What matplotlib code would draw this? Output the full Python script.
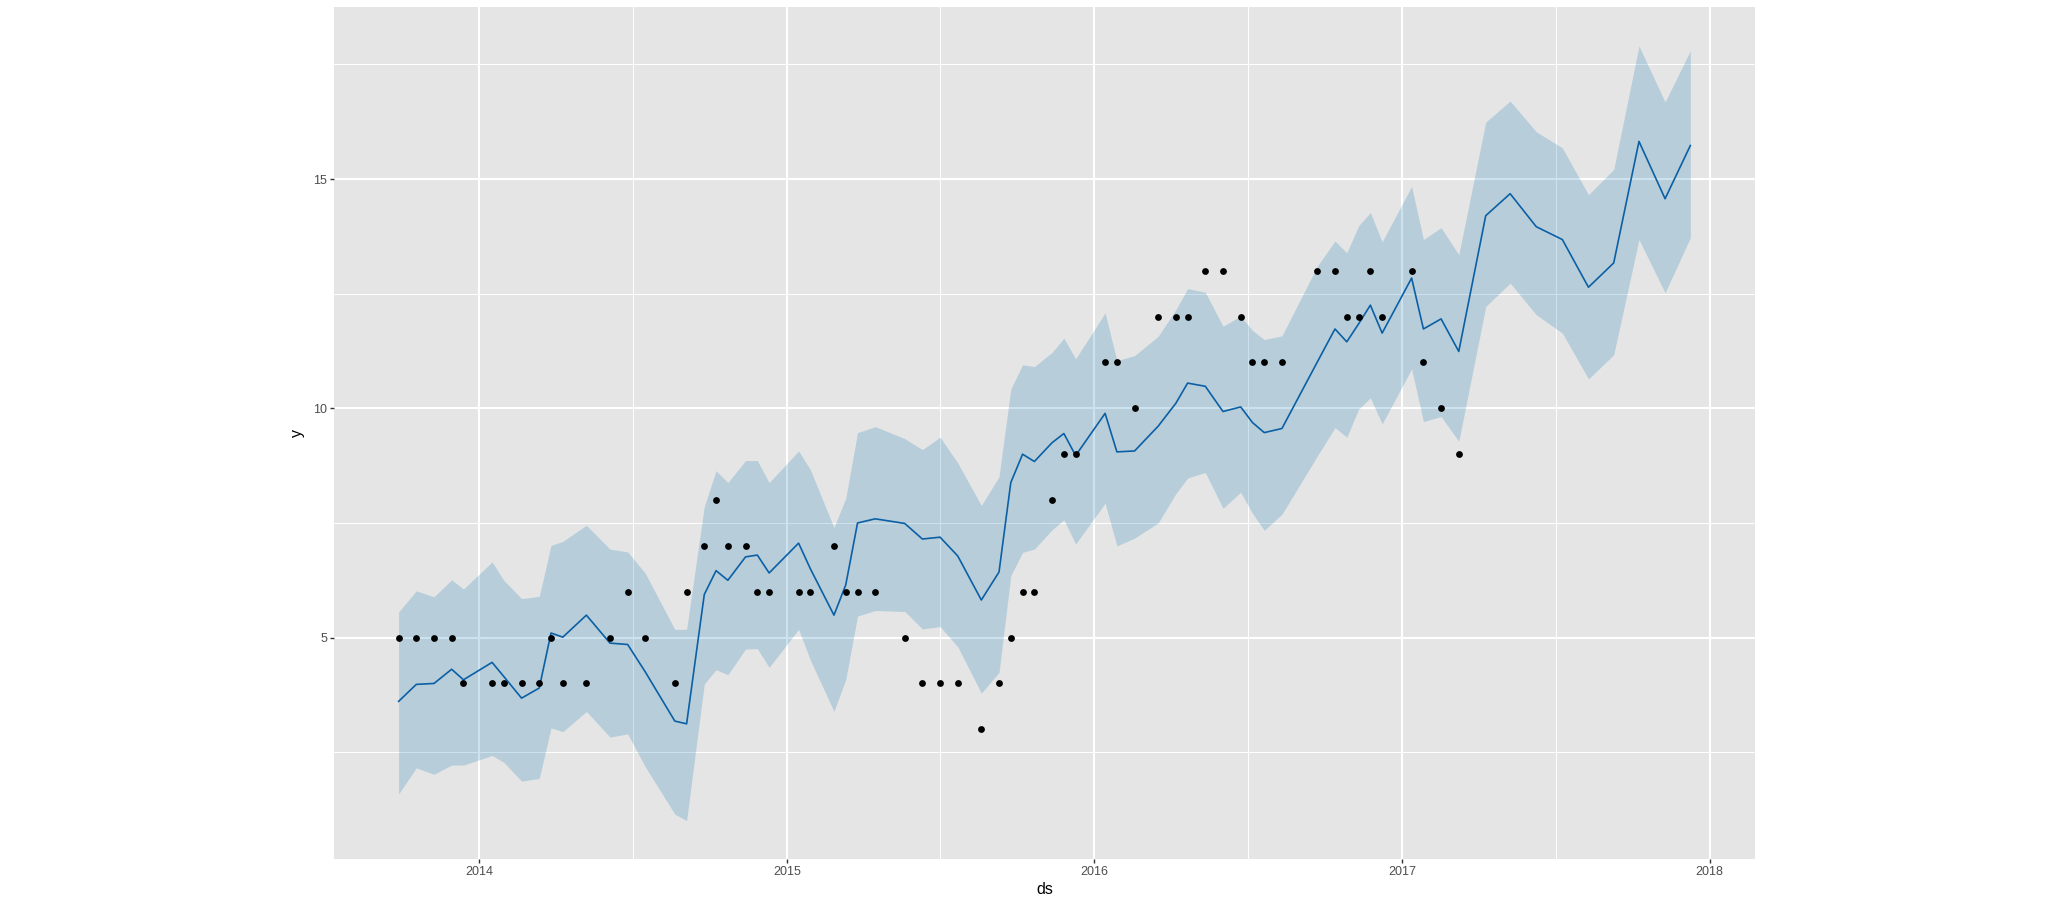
import matplotlib
matplotlib.use('Agg')
import matplotlib.pyplot as plt
import matplotlib.dates as mdates
import numpy as np
import pandas as pd

plt.rcParams['font.family'] = ['Liberation Sans', 'DejaVu Sans']

# observed history (ds, y)
hist_ds = ['2013-09-27', '2013-10-18', '2013-11-08', '2013-11-29', '2013-12-13',
           '2014-01-16', '2014-01-30', '2014-02-20', '2014-03-13', '2014-03-27',
           '2014-04-10', '2014-05-08', '2014-06-05', '2014-06-26', '2014-07-17',
           '2014-08-21', '2014-09-04', '2014-09-25', '2014-10-09', '2014-10-23',
           '2014-11-13', '2014-11-27', '2014-12-11', '2015-01-15', '2015-01-29',
           '2015-02-26', '2015-03-12', '2015-03-26', '2015-04-16', '2015-05-21',
           '2015-06-11', '2015-07-02', '2015-07-23', '2015-08-20', '2015-09-10',
           '2015-09-24', '2015-10-08', '2015-10-22', '2015-11-12', '2015-11-26',
           '2015-12-10', '2016-01-14', '2016-01-28', '2016-02-18', '2016-03-17',
           '2016-04-07', '2016-04-21', '2016-05-12', '2016-06-02', '2016-06-23',
           '2016-07-07', '2016-07-21', '2016-08-11', '2016-09-22', '2016-10-13',
           '2016-10-27', '2016-11-10', '2016-11-24', '2016-12-08', '2017-01-12',
           '2017-01-26', '2017-02-16', '2017-03-09']
hist_y = [5, 5, 5, 5, 4, 4, 4, 4, 4, 5, 4, 4, 5, 6, 5, 4, 6, 7, 8, 7, 7, 6, 6,
          6, 6, 7, 6, 6, 6, 5, 4, 4, 4, 3, 4, 5, 6, 6, 8, 9, 9, 11, 11, 10, 12,
          12, 12, 13, 13, 12, 11, 11, 11, 13, 13, 12, 12, 13, 12, 13, 11, 10, 9]

# future dates of the forecast
future_ds = ['2017-04-10', '2017-05-09', '2017-06-09', '2017-07-10', '2017-08-10',
             '2017-09-09', '2017-10-09', '2017-11-09', '2017-12-09']

# forecast (history + future)
yhat = [3.61, 3.98, 4.00, 4.31, 4.08, 4.46, 4.15, 3.68, 3.90, 5.10, 5.01, 5.49,
        4.88, 4.85, 4.25, 3.18, 3.12, 5.94, 6.46, 6.25, 6.76, 6.80, 6.41, 7.06,
        6.50, 5.49, 6.15, 7.50, 7.59, 7.49, 7.15, 7.19, 6.78, 5.82, 6.43, 8.38,
        9.00, 8.84, 9.25, 9.45, 8.97, 9.89, 9.05, 9.07, 9.61, 10.11, 10.55,
        10.48, 9.93, 10.03, 9.69, 9.47, 9.56, 11.01, 11.73, 11.45, 11.84, 12.25,
        11.64, 12.84, 11.73, 11.95, 11.24,
        14.20, 14.68, 13.96, 13.68, 12.64, 13.17, 15.82, 14.57, 15.73]
yhat_lower = [1.59, 2.16, 2.02, 2.22, 2.22, 2.43, 2.28, 1.87, 1.93, 3.03, 2.95,
              3.39, 2.83, 2.90, 2.18, 1.15, 1.01, 3.99, 4.30, 4.19, 4.75, 4.76,
              4.35, 5.18, 4.51, 3.39, 4.09, 5.47, 5.59, 5.57, 5.19, 5.24, 4.80,
              3.79, 4.24, 6.35, 6.86, 6.93, 7.35, 7.57, 7.04, 7.93, 7.00, 7.17,
              7.50, 8.14, 8.48, 8.60, 7.82, 8.17, 7.71, 7.34, 7.69, 8.96, 9.58,
              9.37, 9.98, 10.23, 9.66, 10.86, 9.71, 9.82, 9.28,
              12.22, 12.73, 12.04, 11.64, 10.64, 11.17, 13.68, 12.52, 13.72]
yhat_upper = [5.56, 6.02, 5.89, 6.26, 6.06, 6.65, 6.25, 5.85, 5.90, 7.01, 7.10,
              7.45, 6.93, 6.87, 6.40, 5.18, 5.18, 7.86, 8.64, 8.38, 8.86, 8.86,
              8.38, 9.07, 8.66, 7.40, 8.04, 9.47, 9.60, 9.34, 9.10, 9.37, 8.81,
              7.88, 8.51, 10.42, 10.95, 10.91, 11.22, 11.53, 11.08, 12.08, 11.04,
              11.15, 11.57, 12.15, 12.61, 12.53, 11.79, 12.01, 11.70, 11.50,
              11.58, 13.10, 13.65, 13.39, 13.98, 14.27, 13.63, 14.84, 13.68,
              13.94, 13.35,
              16.24, 16.70, 16.03, 15.68, 14.66, 15.21, 17.90, 16.68, 17.80]

hist_dates = pd.to_datetime(hist_ds)
fc_dates = pd.to_datetime(hist_ds + future_ds)

fig = plt.figure(figsize=(20.48, 9), dpi=100)
ax = fig.add_axes([0.1631, 0.0452, 0.6938, 0.9467])
ax.set_facecolor('#E5E5E5')
ax.set_axisbelow(True)

ax.fill_between(fc_dates, yhat_lower, yhat_upper, color='#0072B2', alpha=0.2,
                linewidth=0, zorder=2)
ax.plot(fc_dates, yhat, color='#0B5FA5', linewidth=1.2, zorder=3)
ax.scatter(hist_dates, hist_y, s=24, color='black', linewidths=0, zorder=4)

# ggplot-like 5% expansion
x0, x1 = mdates.date2num(fc_dates.min()), mdates.date2num(fc_dates.max())
pad = 0.05 * (x1 - x0)
ax.set_xlim(x0 - pad, x1 + pad)
lo = min(min(yhat_lower), min(hist_y))
hi = max(max(yhat_upper), max(hist_y))
ax.set_ylim(lo - 0.05 * (hi - lo), hi + 0.05 * (hi - lo))

ax.xaxis.set_major_locator(mdates.YearLocator())
ax.xaxis.set_major_formatter(mdates.DateFormatter('%Y'))
ax.xaxis.set_minor_locator(mdates.MonthLocator(bymonth=7, bymonthday=2))
ax.set_yticks([5, 10, 15])
ax.set_yticks([2.5, 7.5, 12.5, 17.5], minor=True)

ax.grid(True, which='major', color='white', linewidth=1.5)
ax.grid(True, which='minor', color='white', linewidth=0.7)
for s in ax.spines.values():
    s.set_visible(False)

ax.tick_params(which='major', length=3, width=1, color='#333333',
               labelsize=9, labelcolor='#4D4D4D', pad=2)
ax.tick_params(which='minor', length=0)

ax.set_xlabel('ds', fontsize=11.5, labelpad=3)
ax.set_ylabel('y', fontsize=11.5, labelpad=6)

plt.savefig('out.png', dpi=100)
